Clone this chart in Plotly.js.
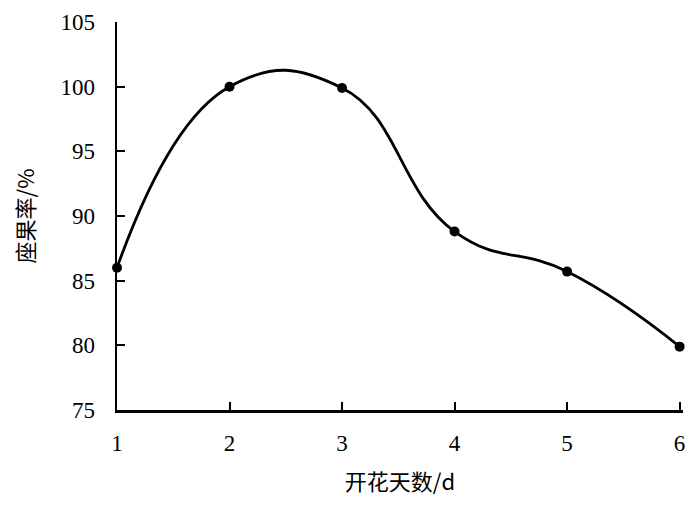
<!DOCTYPE html>
<html><head><meta charset="utf-8">
<script src="https://cdn.plot.ly/plotly-3.0.1.min.js"></script>
<style>body{margin:0;background:#fff}#c{width:700px;height:511px}</style>
</head><body><div id="c"></div>
<script>
var days = [1, 2, 3, 4, 5, 6];
var fruitSetRate = [86.0, 100.0, 99.9, 88.8, 85.7, 79.9];
var yTicks = [75, 80, 85, 90, 95, 100, 105];
var xTicks = [1, 2, 3, 4, 5, 6];
var fontFamily = '"Liberation Serif", "Times New Roman", "Noto Sans CJK SC", serif';
var cjkFamily = '"Noto Sans CJK SC", sans-serif';

var trace = {
  x: days, y: fruitSetRate, type: 'scatter', mode: 'lines+markers',
  line: {shape: 'spline', smoothing: 1.3, color: '#000', width: 2.8},
  marker: {size: 10, color: '#000'}, cliponaxis: false, hoverinfo: 'none'
};
var layout = {
  width: 700, height: 511,
  margin: {l: 117, r: 17, t: 22, b: 101},
  paper_bgcolor: '#fff', plot_bgcolor: '#fff',
  showlegend: false,
  font: {family: fontFamily, size: 23, color: '#000'},
  xaxis: {
    range: [1, 6.03], tickvals: xTicks, ticktext: xTicks.map(String),
    ticks: 'inside', ticklen: 8, tickwidth: 2, tickcolor: '#000',
    showline: true, linecolor: '#000', linewidth: 2.5, showgrid: false, zeroline: false,
    ticklabelstandoff: 11,
    tickfont: {family: fontFamily, size: 23},
    title: {text: '开花天数/d', font: {family: cjkFamily, size: 22}, standoff: 20}
  },
  yaxis: {
    range: [75, 105], tickvals: yTicks, ticktext: yTicks.map(String),
    ticks: 'inside', ticklen: 8, tickwidth: 2, tickcolor: '#000',
    showline: true, linecolor: '#000', linewidth: 2.5, showgrid: false, zeroline: false,
    ticklabelstandoff: 15,
    tickfont: {family: fontFamily, size: 23},
    title: {text: '座果率/%', font: {family: cjkFamily, size: 22}, standoff: 20}
  }
};
Plotly.newPlot('c', [trace], layout, {staticPlot: true});
</script></body></html>
